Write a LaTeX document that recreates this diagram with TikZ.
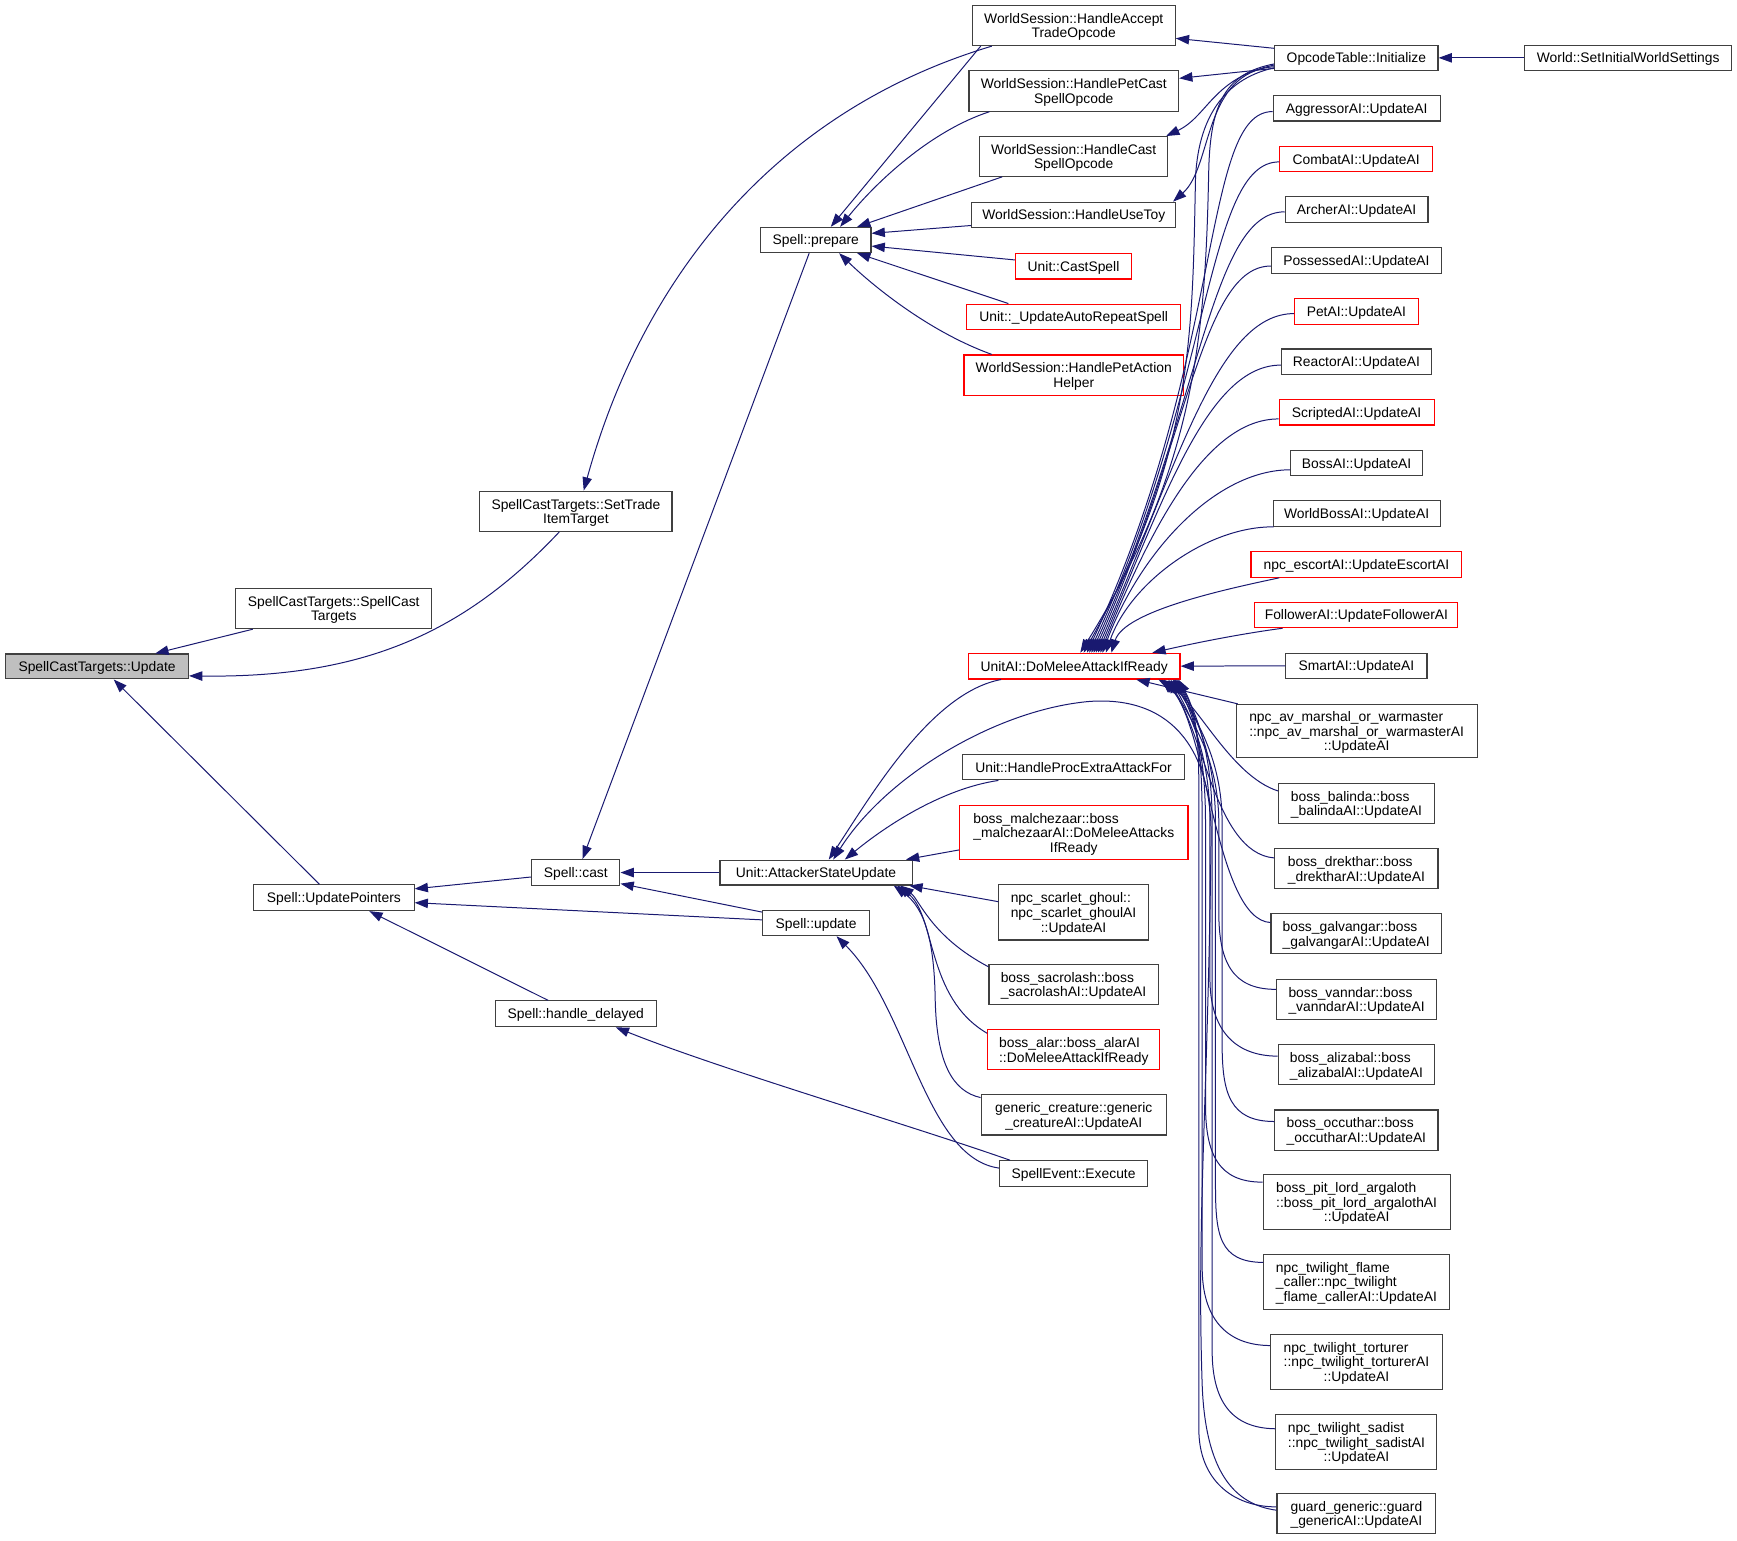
\documentclass[tikz,border=0pt]{standalone}
\usepackage{fontspec}
\setmainfont{Liberation Sans}
\usetikzlibrary{arrows.meta,calc}
\definecolor{edgeblue}{HTML}{191970}
\definecolor{rootgray}{HTML}{BFBFBF}
\newcommand\nfont{\fontsize{12.5pt}{13.2pt}\selectfont}
\newcommand\mlii[2]{\begin{tabular}{@{}l@{}}\rule{0pt}{13.2pt}#1\\\multicolumn{1}{@{}c@{}}{#2}\end{tabular}}
\newcommand\mliii[3]{\begin{tabular}{@{}l@{}}\rule{0pt}{13.2pt}#1\\#2\\\multicolumn{1}{@{}c@{}}{#3}\end{tabular}}
\tikzset{
  nd/.style={draw=black!75, line width=1pt, fill=white, inner sep=0pt, font=\nfont},
  rd/.style={nd, draw=red},
  one/.style={text height=12pt, text depth=3pt},
  edge/.style={draw=edgeblue, line width=0.9pt, {Triangle[length=12pt,width=8.5pt]}-},
}
\begin{document}
\begin{tikzpicture}[x=1pt,y=-1pt]
\useasboundingbox (0,0) rectangle (1567.7,1390);
% column 0-3
\node[nd,one,fill=rootgray,minimum width=165pt,minimum height=22.5pt] (root) at (87.6,601.5) {SpellCastTargets::Update};
\node[nd,minimum width=176.8pt,minimum height=36.3pt] (sct) at (301.2,549.2) {\mlii{SpellCastTargets::SpellCast}{Targets}};
\node[nd,minimum width=173.3pt,minimum height=36.3pt] (settrade) at (519.8,461.4) {\mlii{SpellCastTargets::SetTrade}{ItemTarget}};
\node[nd,one,minimum width=99.6pt,minimum height=22.8pt] (prepare) at (736.3,216.6) {Spell::prepare};
\node[nd,one,minimum width=144.8pt,minimum height=23.2pt] (updptr) at (301.3,810.2) {Spell::UpdatePointers};
\node[nd,one,minimum width=79.6pt,minimum height=23.3pt] (cast) at (519.7,787.5) {Spell::cast};
\node[nd,one,minimum width=145.7pt,minimum height=23.3pt] (hdelayed) at (519.7,915) {Spell::handle\_delayed};
\node[nd,one,minimum width=173.3pt,minimum height=22.5pt] (attacker) at (736.5,787.5) {Unit::AttackerStateUpdate};
\node[nd,one,minimum width=96.3pt,minimum height=22.6pt] (update) at (736.5,833.2) {Spell::update};
% column 4
\node[nd,minimum width=183.2pt,minimum height=36.3pt] (accept) at (969.1,23) {\mlii{WorldSession::HandleAccept}{TradeOpcode}};
\node[nd,minimum width=189.2pt,minimum height=36.6pt] (petcast) at (969.1,82) {\mlii{WorldSession::HandlePetCast}{SpellOpcode}};
\node[nd,minimum width=170pt,minimum height=35.8pt] (castop) at (969,141.2) {\mlii{WorldSession::HandleCast}{SpellOpcode}};
\node[nd,one,minimum width=184.2pt,minimum height=23pt] (usetoy) at (969.1,194) {WorldSession::HandleUseToy};
\node[rd,one,minimum width=104.8pt,minimum height=23.4pt] (castspell) at (968.9,240.1) {Unit::CastSpell};
\node[rd,one,minimum width=193.2pt,minimum height=22.9pt] (autorepeat) at (969.1,285.9) {Unit::\_UpdateAutoRepeatSpell};
\node[rd,minimum width=198.2pt,minimum height=36.3pt] (petaction) at (969.1,338.5) {\mlii{WorldSession::HandlePetAction}{Helper}};
\node[rd,one,minimum width=191pt,minimum height=23.2pt] (domelee) at (969.5,601.2) {UnitAI::DoMeleeAttackIfReady};
\node[nd,one,minimum width=200.6pt,minimum height=22.7pt] (procextra) at (968.9,692.5) {Unit::HandleProcExtraAttackFor};
\node[rd,minimum width=206.2pt,minimum height=48.9pt] (malchezaar) at (969.1,751.5) {\mliii{boss\_malchezaar::boss}{\_malchezaarAI::DoMeleeAttacks}{IfReady}};
\node[nd,minimum width=134.7pt,minimum height=49.8pt] (ghoul) at (968.9,823.5) {\mliii{npc\_scarlet\_ghoul::}{npc\_scarlet\_ghoulAI}{::UpdateAI}};
\node[nd,minimum width=152.7pt,minimum height=35.8pt] (sacrolash) at (968.9,888.5) {\mlii{boss\_sacrolash::boss}{\_sacrolashAI::UpdateAI}};
\node[rd,minimum width=155.2pt,minimum height=36.2pt] (alar) at (969.1,947.3) {\mlii{boss\_alar::boss\_alarAI}{::DoMeleeAttackIfReady}};
\node[nd,minimum width=167.2pt,minimum height=36.3pt] (generic) at (969.1,1006.2) {\mlii{generic\_creature::generic}{\_creatureAI::UpdateAI}};
\node[nd,one,minimum width=133.7pt,minimum height=23.2pt] (execute) at (968.9,1059.2) {SpellEvent::Execute};
% column 5-6
\node[nd,one,minimum width=147.3pt,minimum height=23pt] (opcode) at (1224.2,52.2) {OpcodeTable::Initialize};
\node[nd,one,minimum width=186.7pt,minimum height=23pt] (worldset) at (1469.5,52.2) {World::SetInitialWorldSettings};
\node[nd,one,minimum width=150.8pt,minimum height=23pt] (aggressor) at (1224.4,97.7) {AggressorAI::UpdateAI};
\node[rd,one,minimum width=137.8pt,minimum height=23pt] (combat) at (1224,143.6) {CombatAI::UpdateAI};
\node[nd,one,minimum width=128.8pt,minimum height=23pt] (archer) at (1224.4,189.2) {ArcherAI::UpdateAI};
\node[nd,one,minimum width=153.3pt,minimum height=23pt] (possessed) at (1224.2,235.1) {PossessedAI::UpdateAI};
\node[rd,one,minimum width=111.3pt,minimum height=23pt] (petai) at (1224.2,281) {PetAI::UpdateAI};
\node[nd,one,minimum width=135.3pt,minimum height=23pt] (reactor) at (1224.2,326.5) {ReactorAI::UpdateAI};
\node[rd,one,minimum width=139.8pt,minimum height=23pt] (scripted) at (1224.4,372.1) {ScriptedAI::UpdateAI};
\node[nd,one,minimum width=118.8pt,minimum height=23pt] (bossai) at (1224.4,418) {BossAI::UpdateAI};
\node[nd,one,minimum width=150.8pt,minimum height=23pt] (worldboss) at (1224.4,463.5) {WorldBossAI::UpdateAI};
\node[rd,one,minimum width=190.3pt,minimum height=23pt] (escort) at (1224.2,509.5) {npc\_escortAI::UpdateEscortAI};
\node[rd,one,minimum width=183.2pt,minimum height=23pt] (follower) at (1224.2,555) {FollowerAI::UpdateFollowerAI};
\node[nd,one,minimum width=127.3pt,minimum height=23pt] (smart) at (1224.2,600.9) {SmartAI::UpdateAI};
\node[nd,minimum width=217.6pt,minimum height=48.3pt] (avmarshal) at (1224.4,659.9) {\mliii{npc\_av\_marshal\_or\_warmaster}{::npc\_av\_marshal\_or\_warmasterAI}{::UpdateAI}};
\node[nd,minimum width=140.3pt,minimum height=36.3pt] (balinda) at (1224.2,724.9) {\mlii{boss\_balinda::boss}{\_balindaAI::UpdateAI}};
\node[nd,minimum width=147.3pt,minimum height=36.3pt] (drekthar) at (1224.2,783.9) {\mlii{boss\_drekthar::boss}{\_drektharAI::UpdateAI}};
\node[nd,minimum width=153.8pt,minimum height=35.8pt] (galvangar) at (1224,842.6) {\mlii{boss\_galvangar::boss}{\_galvangarAI::UpdateAI}};
\node[nd,minimum width=144.8pt,minimum height=36.3pt] (vanndar) at (1224.4,901.9) {\mlii{boss\_vanndar::boss}{\_vanndarAI::UpdateAI}};
\node[nd,minimum width=141.3pt,minimum height=36.3pt] (alizabal) at (1224.2,960.9) {\mlii{boss\_alizabal::boss}{\_alizabalAI::UpdateAI}};
\node[nd,minimum width=147.3pt,minimum height=36.3pt] (occuthar) at (1224.2,1019.9) {\mlii{boss\_occuthar::boss}{\_occutharAI::UpdateAI}};
\node[nd,minimum width=168.8pt,minimum height=49.3pt] (pitlord) at (1224.4,1084.9) {\mliii{boss\_pit\_lord\_argaloth}{::boss\_pit\_lord\_argalothAI}{::UpdateAI}};
\node[nd,minimum width=167.2pt,minimum height=49.3pt] (flame) at (1224.2,1156.9) {\mliii{npc\_twilight\_flame}{\_caller::npc\_twilight}{\_flame\_callerAI::UpdateAI}};
\node[nd,minimum width=155.3pt,minimum height=49.3pt] (torturer) at (1224.2,1229) {\mliii{npc\_twilight\_torturer}{::npc\_twilight\_torturerAI}{::UpdateAI}};
\node[nd,minimum width=145.3pt,minimum height=49.3pt] (sadist) at (1224.2,1301.5) {\mliii{npc\_twilight\_sadist}{::npc\_twilight\_sadistAI}{::UpdateAI}};
\node[nd,minimum width=143.3pt,minimum height=36.2pt] (guard) at (1224.2,1366) {\mlii{guard\_generic::guard}{\_genericAI::UpdateAI}};

% edges into root and column 1-3
\draw[edge] ($(root.north)+(52.5,0)$) -- ($(sct.south)+(-73,0)$);
\draw[edge] ($(root.east)+(0,8.5)$) .. controls (330,612) and (420,570) .. ($(settrade.south)+(-15,0)$);
\draw[edge] ($(root.south)+(15,0)$) -- ($(updptr.north)+(-13,0)$);
\draw[edge] ($(settrade.north)+(7,0)$) .. controls (580,250) and (700,100) .. ($(accept.south)+(-74,0)$);
\draw[edge] ($(updptr.east)+(0,-8)$) -- ($(cast.west)+(0,4)$);
\draw[edge] ($(updptr.east)+(0,4.5)$) -- ($(update.west)+(0,-3)$);
\draw[edge] ($(updptr.south)+(32,0)$) -- ($(hdelayed.north)+(-25,0)$);
\draw[edge] ($(cast.north)+(6,0)$) -- ($(prepare.south)+(-6,0)$);
\draw[edge] (cast.east) -- (attacker.west);
\draw[edge] ($(cast.east)+(0,10)$) -- ($(update.west)+(0,-10)$);
\draw[edge] ($(hdelayed.south)+(36,0)$) .. controls (650,965) and (820,1015) .. ($(execute.north west)+(10,0)$);
\draw[edge] ($(update.south)+(18.5,0)$) .. controls (820,910) and (835,1045) .. ($(execute.west)+(0,-5)$);
% into prepare
\draw[edge] ($(prepare.north)+(13.5,0)$) -- ($(accept.south)+(-84,0)$);
\draw[edge] ($(prepare.north)+(22,0)$) .. controls (790,165) and (840,118) .. ($(petcast.south)+(-76,0)$);
\draw[edge] ($(prepare.north east)+(-13,0)$) -- ($(castop.south)+(-64.5,0)$);
\draw[edge] ($(prepare.east)+(0,-6)$) -- ($(usetoy.west)+(0,9.5)$);
\draw[edge] ($(prepare.east)+(0,5.5)$) -- ($(castspell.west)+(0,-5.5)$);
\draw[edge] ($(prepare.south east)+(-13,0)$) -- ($(autorepeat.north)+(-59,0)$);
\draw[edge] ($(prepare.south)+(21,0)$) .. controls (790,260) and (840,300) .. ($(petaction.north)+(-74,0)$);
% from OpcodeTable
\draw[edge] ($(accept.east)+(0,11.6)$) -- ($(opcode.west)+(0,-8.6)$);
\draw[edge] ($(petcast.east)+(0,-11.3)$) -- ($(opcode.west)+(0,9.5)$);
\draw[edge] ($(castop.north east)+(-2,0)$) .. controls (1090,105) and (1095,70) .. ($(opcode.west)+(0,6.5)$);
\draw[edge] ($(usetoy.north east)+(-3,0)$) .. controls (1095,150) and (1085,65) .. ($(opcode.west)+(0,8)$);
\draw[edge] (opcode.east) -- (worldset.west);
\draw[edge] ($(domelee.north)+(5.5,0)$) .. controls (1080,420) and (1088,300) .. (1091,150) .. controls (1093,95) and (1105,66) .. ($(opcode.west)+(0,5.5)$);
\draw[edge] ($(domelee.north)+(8.5,0)$) .. controls (1078,410) and (1076,300) .. (1079,160) .. controls (1082,100) and (1110,70) .. ($(opcode.west)+(0,9)$);
% into DoMeleeAttackIfReady from above
\draw[edge] ($(domelee.north)+(11.5,0)$) .. controls (1106,320.4) and (1084.4,100.7) .. ($(aggressor.west)+(0,3)$);
\draw[edge] ($(domelee.north)+(13.5,0)$) .. controls (1095.2,345.4) and (1088.5,146.1) .. ($(combat.west)+(0,2.5)$);
\draw[edge] ($(domelee.north)+(15.5,0)$) .. controls (1084.5,370.1) and (1092,191) .. ($(archer.west)+(0,2)$);
\draw[edge] ($(domelee.north)+(17.5,0)$) .. controls (1072.7,397) and (1084.6,240) .. ($(possessed.west)+(0,5)$);
\draw[edge] ($(domelee.north)+(19.5,0)$) .. controls (1062.6,420.7) and (1098,283) .. ($(petai.west)+(0,2)$);
\draw[edge] ($(domelee.north)+(21.5,0)$) .. controls (1051.5,446.3) and (1091,329.5) .. ($(reactor.west)+(0,3)$);
\draw[edge] ($(domelee.north)+(23.5,0)$) .. controls (1039.9,473) and (1090.1,378) .. ($(scripted.west)+(0,6)$);
\draw[edge] ($(domelee.north)+(25.5,0)$) .. controls (1028.9,498.3) and (1097,424) .. ($(bossai.west)+(0,6)$);
\draw[edge] ($(domelee.north)+(28.5,0)$) .. controls (1019.6,526.3) and (1089.2,475) .. ($(worldboss.south west)+(1,0)$);
\draw[edge] ($(domelee.north)+(33.5,0)$) .. controls (1014.7,551.6) and (1105,532) .. ($(escort.south west)+(26,0)$);
\draw[edge] ($(domelee.north)+(70.5,0)$) .. controls (1080,580) and (1120,572) .. ($(follower.south west)+(25.5,0)$);
\draw[edge] (domelee.east) -- (smart.west);
% into DoMeleeAttackIfReady from below
\draw[edge] ($(domelee.south east)+(-40,0)$) -- ($(avmarshal.north west)+(2,0)$);
\draw[edge] ($(domelee.south east)+(-20,0)$) .. controls (1080,632) and (1110,700) .. ($(balinda.west)+(0,-11)$);
\draw[edge] ($(domelee.south east)+(-17,0)$) .. controls (1085,650) and (1095,770) .. ($(drekthar.west)+(0,-9.6)$);
\draw[edge] ($(domelee.south east)+(-15,0)$) .. controls (1090,660) and (1098,830) .. ($(galvangar.west)+(0,-10)$);
\draw[edge] ($(domelee.south east)+(-11,0)$) .. controls (1074,648) and (1100,683) .. (1100,743) -- (1100,823) .. controls (1100,868) and (1112,893) .. ($(vanndar.west)+(0,-9)$);
\draw[edge] ($(domelee.south east)+(-9,0)$) .. controls (1076,648) and (1092,683) .. (1092,743) -- (1092,883) .. controls (1092,928) and (1113,953) .. ($(alizabal.west)+(0,-7.7)$);
\draw[edge] ($(domelee.south east)+(-7,0)$) .. controls (1078,648) and (1103,683) .. (1103,743) -- (1103,942) .. controls (1103,987) and (1110,1012) .. ($(occuthar.west)+(0,-7.7)$);
\draw[edge] ($(domelee.south east)+(-6,0)$) .. controls (1079,648) and (1088,683) .. (1088,743) -- (1088,997) .. controls (1088,1042) and (1100,1067) .. ($(pitlord.west)+(0,-18)$);
\draw[edge] ($(domelee.south east)+(-5,0)$) .. controls (1080,648) and (1097,683) .. (1097,743) -- (1097,1069) .. controls (1097,1114) and (1100,1139) .. ($(flame.west)+(0,-17.5)$);
\draw[edge] ($(domelee.south east)+(-4,0)$) .. controls (1081,648) and (1085,683) .. (1085,743) -- (1085,1144) .. controls (1085,1189) and (1106,1214) .. ($(torturer.west)+(0,-14.6)$);
\draw[edge] ($(domelee.south east)+(-3,0)$) .. controls (1082,648) and (1094,683) .. (1094,743) -- (1094,1219) .. controls (1094,1264) and (1111,1289) .. ($(sadist.west)+(0,-12)$);
\draw[edge] ($(domelee.south east)+(-2,0)$) .. controls (1083,648) and (1082,683) .. (1082,743) -- (1082,1290) .. controls (1082,1335) and (1112,1360) .. ($(guard.west)+(0,-6)$);
% into AttackerStateUpdate
\draw[edge] ($(attacker.north)+(11.5,0)$) .. controls (785,720) and (840,625) .. ($(domelee.south west)+(30,0)$);
\draw[edge] ($(attacker.north)+(15.5,0)$) .. controls (800,700) and (900,640) .. (984,633) .. controls (1060,628) and (1095,680) .. (1093,760) .. controls (1090,1000) and (1080,1100) .. (1085,1250) .. controls (1088,1330) and (1115,1358) .. ($(guard.west)+(0,-3)$);
\draw[edge] ($(attacker.north)+(26,0)$) .. controls (800,745) and (850,712) .. ($(procextra.south west)+(33,0)$);
\draw[edge] ($(attacker.north east)+(-6,0)$) -- ($(malchezaar.west)+(0,15.6)$);
\draw[edge] ($(attacker.south east)+(-3,0)$) -- ($(ghoul.west)+(0,-9.7)$);
\draw[edge] ($(attacker.south east)+(-11,0)$) .. controls (830,812) and (840,845) .. ($(sacrolash.west)+(0,-16)$);
\draw[edge] ($(attacker.south east)+(-14,0)$) .. controls (845,825) and (835,900) .. ($(alar.west)+(0,-14.7)$);
\draw[edge] ($(attacker.south east)+(-17,0)$) .. controls (835,820) and (843,850) .. (844,900) .. controls (845,960) and (860,985) .. ($(generic.west)+(0,-15.6)$);
\end{tikzpicture}
\end{document}
